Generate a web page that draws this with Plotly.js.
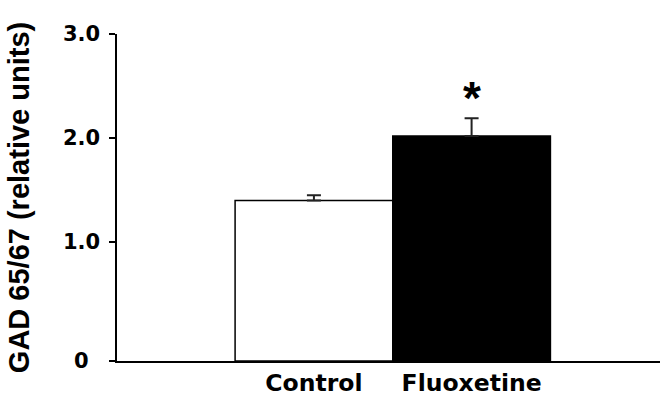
<!DOCTYPE html>
<html>
<head>
<meta charset="utf-8">
<script src="https://cdn.plot.ly/plotly-3.0.1.min.js"></script>
<style>
  html, body { margin: 0; padding: 0; background: #fff; }
  #chart { width: 661px; height: 407px; }
</style>
</head>
<body>
<div id="chart"></div>
<script>
// GAD 65/67 expression, control vs fluoxetine-treated
const groups = ['Control', 'Fluoxetine'];
const gadLevel = [1.40, 2.02];
const gadSem = [0.05, 0.17];
const barFill = ['#ffffff', '#000000'];
const significant = [false, true];

// y tick labels as printed on the axis (the "0" sits on the axis floor)
const axisFloor = -0.144;
const yTickVals = [axisFloor, 1, 2, 3];
const yTickText = ['0', '1.0', '2.0', '3.0'];

const trace = {
  type: 'bar',
  x: groups,
  base: groups.map(() => axisFloor),
  y: gadLevel.map(v => v - axisFloor),
  marker: { color: barFill, line: { color: '#000', width: 1.5 } },
  error_y: {
    type: 'data', array: gadSem, arrayminus: gadSem.map(() => 0),
    symmetric: false, color: '#222', thickness: 2, width: 7
  },
  hoverinfo: 'skip'
};

const annotations = [];
// tick labels, centred under a common column
yTickVals.forEach((v, i) => annotations.push({
  xref: 'paper', yref: 'y', x: -0.066, y: v, xanchor: 'center', yanchor: 'middle',
  text: yTickText[i], showarrow: false,
  font: { family: 'DejaVu Sans', size: 21, color: '#000', weight: 'bold' }
}));
// significance marks above the error bars
groups.forEach((g, i) => {
  if (!significant[i]) return;
  annotations.push({
    xref: 'x', yref: 'y', x: g, y: gadLevel[i] + gadSem[i],
    xanchor: 'center', yanchor: 'bottom', yshift: -8,
    text: '*', showarrow: false,
    font: { family: 'Liberation Sans, Arial', size: 46, color: '#000', weight: 'bold' }
  });
});

const layout = {
  width: 661, height: 407,
  margin: { l: 117, r: 1, t: 34, b: 46, pad: 0 },
  paper_bgcolor: '#fff', plot_bgcolor: '#fff',
  showlegend: false,
  bargap: 0,
  xaxis: {
    type: 'category', range: [-1.249, 2.195], fixedrange: true,
    showline: true, linecolor: '#000', linewidth: 2,
    ticks: '', showgrid: false, zeroline: false,
    tickfont: { family: 'DejaVu Sans', size: 23.5, color: '#000', weight: 'bold' }
  },
  yaxis: {
    range: [axisFloor, 3.0], fixedrange: true,
    showline: true, linecolor: '#000', linewidth: 2,
    ticks: 'outside', ticklen: 6, tickwidth: 1.5, tickcolor: '#000',
    tickmode: 'array', tickvals: yTickVals, showticklabels: false,
    showgrid: false, zeroline: false,
    title: {
      text: 'GAD 65/67 (relative units)', standoff: 71,
      font: { family: 'Liberation Sans, Arial', size: 29, color: '#000', weight: 'bold' }
    }
  },
  annotations: annotations
};

Plotly.newPlot('chart', [trace], layout, { staticPlot: true, displayModeBar: false });
</script>
</body>
</html>
